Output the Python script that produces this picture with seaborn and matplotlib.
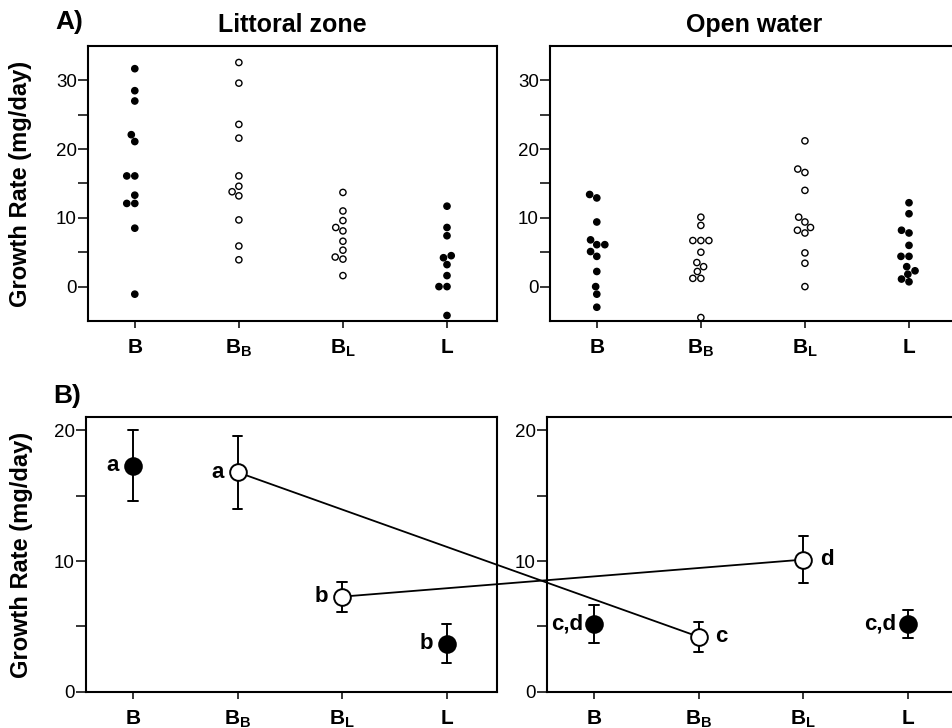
import matplotlib.pyplot as plt
import seaborn as sns
import pandas as pd
from matplotlib.patches import ConnectionPatch

# growth rates (mg/day), one list per zone and treatment
littoral_b = [31.7, 28.5, 27.0, 22.1, 21.1, 16.1, 16.1, 13.3, 12.1, 12.1, 8.5, -1.1]
littoral_bb = [32.6, 29.6, 23.6, 21.6, 16.1, 14.6, 13.8, 13.2, 9.7, 5.9, 3.9]
littoral_bl = [13.7, 11.0, 9.6, 8.6, 8.1, 6.6, 5.3, 4.3, 4.0, 1.6]
littoral_l = [11.7, 8.6, 7.4, 4.5, 4.2, 3.2, 1.6, 0.0, 0.0, -4.2]
open_b = [13.4, 12.9, 9.4, 6.8, 6.1, 6.1, 5.1, 4.4, 2.2, 0.0, -1.1, -3.0]
open_bb = [10.1, 8.9, 6.7, 6.7, 6.7, 5.0, 3.5, 2.9, 2.2, 1.2, 1.2, -4.5]
open_bl = [21.2, 17.1, 16.6, 14.0, 10.1, 9.4, 8.6, 8.2, 7.8, 4.9, 3.4, 0.0]
open_l = [12.2, 10.6, 8.2, 7.8, 6.0, 4.4, 4.4, 2.9, 2.3, 1.8, 1.1, 0.7]

ZONES = ["Littoral zone", "Open water"]
TREATMENTS = ["B", "BB", "BL", "L"]
TICK_LABELS = [r"$\mathbf{B}$", r"$\mathbf{B_B}$", r"$\mathbf{B_L}$", r"$\mathbf{L}$"]
FILLED = ["B", "L"]
OPEN = ["BB", "BL"]

# significance letters for panel B
letters_littoral = ["a", "a", "b", "b"]
letters_open = ["c,d", "c", "d", "c,d"]

groups = {
    ("Littoral zone", "B"): littoral_b,
    ("Littoral zone", "BB"): littoral_bb,
    ("Littoral zone", "BL"): littoral_bl,
    ("Littoral zone", "L"): littoral_l,
    ("Open water", "B"): open_b,
    ("Open water", "BB"): open_bb,
    ("Open water", "BL"): open_bl,
    ("Open water", "L"): open_l,
}
rows = [(z, t, v) for (z, t), vals in groups.items() for v in vals]
df = pd.DataFrame(rows, columns=["zone", "treatment", "growth"])
means = df.groupby(["zone", "treatment"])["growth"].mean()

sns.set_style("ticks")
plt.rcParams["font.family"] = ["Liberation Sans", "DejaVu Sans"]
plt.rcParams.update({
    "mathtext.fontset": "custom",
    "mathtext.rm": "Liberation Sans",
    "mathtext.bf": "Liberation Sans:bold",
    "axes.linewidth": 1.5,
    "axes.edgecolor": "black",
    "text.color": "black",
    "axes.labelcolor": "black",
    "xtick.color": "black",
    "ytick.color": "black",
})

fill_palette = {"B": "black", "BB": "white", "BL": "white", "L": "black"}

fig = plt.figure(figsize=(9.52, 7.28), dpi=100)
top = [fig.add_axes([0.0924, 0.5591, 0.4296, 0.3777]),
       fig.add_axes([0.5777, 0.5591, 0.4296, 0.3777])]
bot = [fig.add_axes([0.0903, 0.0495, 0.4317, 0.3777]),
       fig.add_axes([0.5746, 0.0495, 0.4317, 0.3777])]

# panel A: individual values
for ax, zone in zip(top, ZONES):
    sub = df[df["zone"] == zone]
    sns.swarmplot(data=sub, x="treatment", y="growth", order=TREATMENTS,
                  hue="treatment", hue_order=TREATMENTS, palette=fill_palette,
                  edgecolor="black", linewidth=1, size=4.5, legend=False, ax=ax)
    ax.set_title(zone, fontsize=18, fontweight="bold", pad=10)
    ax.set_ylim(-5, 35)
    ax.set_yticks([0, 10, 20, 30])
    ax.set_yticks([5, 15, 25], minor=True)

# panel B: mean +- SE
for ax, zone in zip(bot, ZONES):
    sub = df[df["zone"] == zone]
    for cats, face in ((FILLED, "black"), (OPEN, "white")):
        sns.pointplot(data=sub[sub["treatment"].isin(cats)], x="treatment", y="growth",
                      order=TREATMENTS, errorbar="se", color="black", markers="o",
                      linestyle="none", markersize=12, markerfacecolor=face,
                      markeredgecolor="black", markeredgewidth=1.4, capsize=0.09,
                      err_kws={"linewidth": 1.4, "linestyle": "-", "zorder": 2},
                      zorder=4, ax=ax)
    ax.set_facecolor("none")
    ax.set_ylim(0, 21)
    ax.set_yticks([0, 10, 20])
    ax.set_yticks([5, 15], minor=True)

for i, t in enumerate(TREATMENTS):
    bot[0].annotate(letters_littoral[i], xy=(i, means[("Littoral zone", t)]),
                    xytext=(-10, 0), textcoords="offset points", ha="right", va="center",
                    fontsize=16, fontweight="bold")
    right = t in OPEN
    bot[1].annotate(letters_open[i], xy=(i, means[("Open water", t)]),
                    xytext=(12 if right else -8, 0), textcoords="offset points",
                    ha="left" if right else "right", va="center",
                    fontsize=16, fontweight="bold")

# lines joining the bait treatments across the two zones
for t in OPEN:
    i = TREATMENTS.index(t)
    con = ConnectionPatch(xyA=(i, means[("Littoral zone", t)]), coordsA=bot[0].transData,
                          xyB=(i, means[("Open water", t)]), coordsB=bot[1].transData,
                          color="black", linewidth=1.3, zorder=-1)
    fig.add_artist(con)

for ax in top + bot:
    ax.set_xlim(-0.45, 3.48)
    ax.set_xticks(range(len(TREATMENTS)), TICK_LABELS)
    ax.set_xlabel("")
    ax.set_ylabel("")
    ax.tick_params(axis="y", which="both", direction="out", length=7, width=1.1,
                   pad=1, labelsize=13.5)
    ax.tick_params(axis="x", direction="out", length=5, width=1.1, pad=7, labelsize=15)
    for s in ax.spines.values():
        s.set_visible(True)

for ax in (top[0], bot[0]):
    ax.set_ylabel("Growth Rate (mg/day)", fontsize=17, fontweight="bold")
top[0].yaxis.set_label_coords(-0.137, 0.5)
bot[0].yaxis.set_label_coords(-0.129, 0.5)

fig.text(55 / 952, 1 - 29 / 728, "A)", fontsize=19, fontweight="bold")
fig.text(53 / 952, 1 - 403 / 728, "B)", fontsize=19, fontweight="bold")

fig.savefig("out.png", dpi=100)
